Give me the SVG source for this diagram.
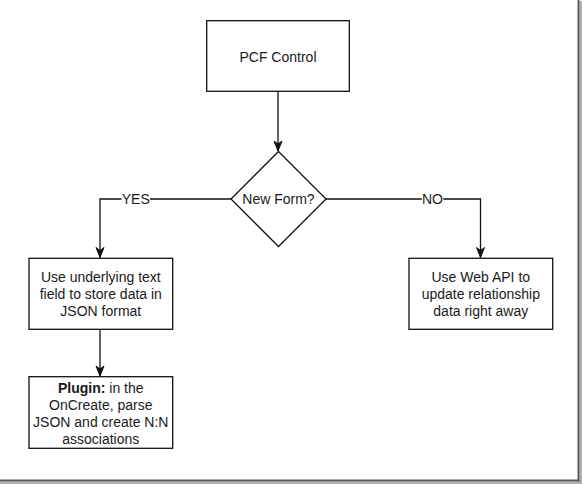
<svg xmlns="http://www.w3.org/2000/svg" width="582" height="484" viewBox="0 0 582 484">
  <defs>
    <style>
      .box { fill: #ffffff; stroke: #111111; stroke-width: 1.3; }
      .edge { fill: none; stroke: #111111; stroke-width: 1.3; }
      .t { font-family: "Liberation Sans", Arial, sans-serif; font-size: 14px; fill: #1a1a1a; text-anchor: middle; }
      .lbl-bg { fill: #ffffff; }
    </style>
    <marker id="arrow" markerUnits="userSpaceOnUse" markerWidth="12" markerHeight="10" viewBox="-11 -5 12 10" refX="0" refY="0" orient="auto">
      <path d="M0,0 L-10,-4 L-7,0 L-10,4 Z" fill="#111111" stroke="#111111" stroke-width="1"/>
    </marker>
  </defs>

  <rect x="0" y="0" width="582" height="484" fill="#ffffff"/>

  <!-- frame shadow -->
  <g id="frame">
    <rect x="579.5" y="1" width="2.5" height="483" fill="#b0b0b0"/>
    <rect x="0" y="481.5" width="582" height="2.5" fill="#b0b0b0"/>
    <rect x="577.5" y="0" width="2" height="481.5" fill="#5a5a5a"/>
    <rect x="0" y="479.5" width="579.5" height="2" fill="#5a5a5a"/>
  </g>

  <g id="connectors">
    <path class="edge" d="M278,91 L278,151" marker-end="url(#arrow)"/>
    <path class="edge" d="M231,199 L100,199 L100,257.5" marker-end="url(#arrow)"/>
    <path class="edge" d="M326,199 L480.5,199 L480.5,257.5" marker-end="url(#arrow)"/>
    <path class="edge" d="M100,329.5 L100,376" marker-end="url(#arrow)"/>
    <g id="label-yes">
      <rect class="lbl-bg" x="121.5" y="191" width="28.5" height="16"/>
      <text class="t" x="135.8" y="204">YES</text>
    </g>
    <g id="label-no">
      <rect class="lbl-bg" x="421.8" y="191" width="21.5" height="16"/>
      <text class="t" x="432.5" y="204">NO</text>
    </g>
  </g>

  <g id="node-pcf">
    <rect class="box" x="206.7" y="20.7" width="142.6" height="70.6"/>
    <text class="t" x="278" y="61.8">PCF Control</text>
  </g>

  <g id="node-decision">
    <polygon class="box" points="278.5,151.5 326,199 278.5,246.5 231,199"/>
    <text class="t" x="278.5" y="204.3">New Form?</text>
  </g>

  <g id="node-json">
    <rect class="box" x="29" y="258.3" width="143.7" height="71"/>
    <text class="t" x="100.8" y="282.4">Use underlying text</text>
    <text class="t" x="100.8" y="299.2">field to store data in</text>
    <text class="t" x="100.8" y="316">JSON format</text>
  </g>

  <g id="node-webapi">
    <rect class="box" x="409" y="258.3" width="143.7" height="71"/>
    <text class="t" x="480.8" y="282.4">Use Web API to</text>
    <text class="t" x="480.8" y="299.2">update relationship</text>
    <text class="t" x="480.8" y="316">data right away</text>
  </g>

  <g id="node-plugin">
    <rect class="box" x="29" y="376.7" width="143.7" height="71.6"/>
    <text class="t" x="100.8" y="393.3"><tspan font-weight="bold">Plugin:</tspan> in the</text>
    <text class="t" x="100.8" y="410.1">OnCreate, parse</text>
    <text class="t" x="100.8" y="426.9">JSON and create N:N</text>
    <text class="t" x="100.8" y="443.7">associations</text>
  </g>
</svg>
